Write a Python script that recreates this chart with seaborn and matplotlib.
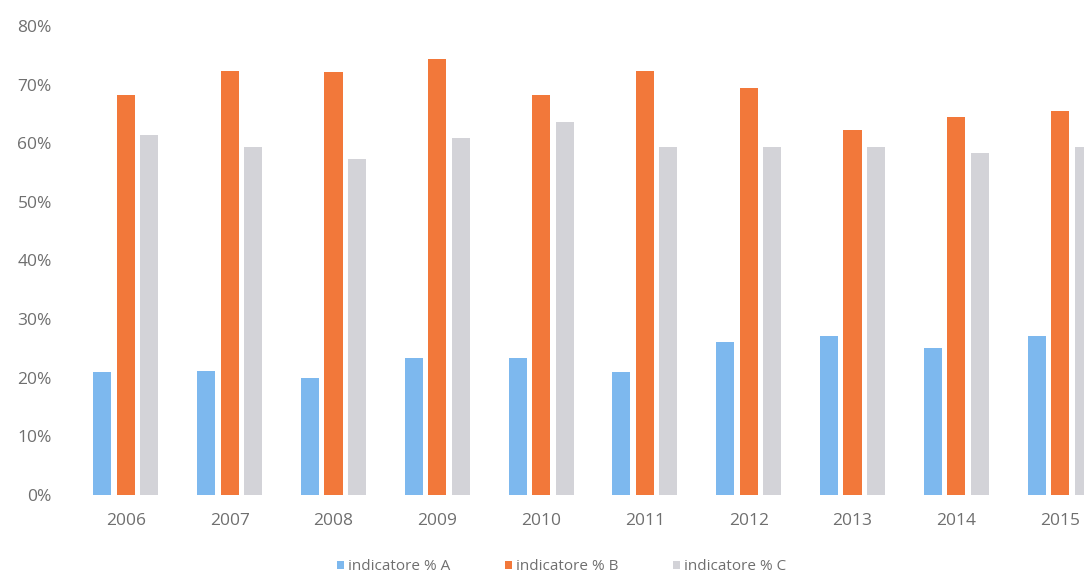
import matplotlib
matplotlib.use("Agg")
import matplotlib.pyplot as plt
import seaborn as sns
import pandas as pd
from matplotlib.patches import Patch

years = ["2006", "2007", "2008", "2009", "2010", "2011", "2012", "2013", "2014", "2015"]
ind_a = [0.21, 0.212, 0.20, 0.234, 0.234, 0.21, 0.261, 0.271, 0.251, 0.271]
ind_b = [0.683, 0.724, 0.722, 0.744, 0.683, 0.724, 0.695, 0.623, 0.645, 0.655]
ind_c = [0.614, 0.594, 0.573, 0.609, 0.637, 0.594, 0.594, 0.594, 0.584, 0.594]
series_names = ["indicatore % A", "indicatore % B", "indicatore % C"]
colors = ["#7db8ee", "#f2783a", "#d3d3d8"]
y_ticks = [0, 0.1, 0.2, 0.3, 0.4, 0.5, 0.6, 0.7, 0.8]
y_labels = ["0%", "10%", "20%", "30%", "40%", "50%", "60%", "70%", "80%"]

rows = []
for name, vals in zip(series_names, [ind_a, ind_b, ind_c]):
    for y, v in zip(years, vals):
        rows.append({"year": y, "serie": name, "value": v})
df = pd.DataFrame(rows)

sns.set_style("white")
plt.rcParams['font.family'] = ['Open Sans', 'DejaVu Sans']
text_color = "#6f6f6f"

fig = plt.figure(figsize=(10.84, 5.78), dpi=100)
ax_left = 74
ax_bottom = 495
ax_top = 26
ax = fig.add_axes([ax_left/1084, (578-ax_bottom)/578, (1084-ax_left)/1084, (ax_bottom-ax_top)/578])
sns.barplot(data=df, x="year", y="value", hue="serie", palette=colors,
            width=0.68, gap=0.23, ax=ax, legend=False, saturation=1,
            linewidth=0)

ax.set_xlim(-0.5, -0.5 + (1084-ax_left)/103.8)
ax.set_ylim(0, 0.8)
ax.set_yticks(y_ticks)
ax.set_yticklabels(y_labels)
ax.set_xlabel("")
ax.set_ylabel("")
for s in ax.spines.values():
    s.set_visible(False)
ax.tick_params(axis="x", length=0, pad=13, labelsize=12.5, labelcolor=text_color)
ax.tick_params(axis="y", length=0, pad=16, labelsize=12.5, labelcolor=text_color)

handles = [Patch(facecolor=c, edgecolor='none') for c in colors]
fig.legend(handles, series_names, loc="center", bbox_to_anchor=(0.518, 1 - 567/578),
           ncol=3, frameon=False, fontsize=11, labelcolor=text_color,
           handlelength=0.45, handleheight=0.45, handletextpad=0.25, columnspacing=3.6)

fig.savefig("out.png", dpi=100)
